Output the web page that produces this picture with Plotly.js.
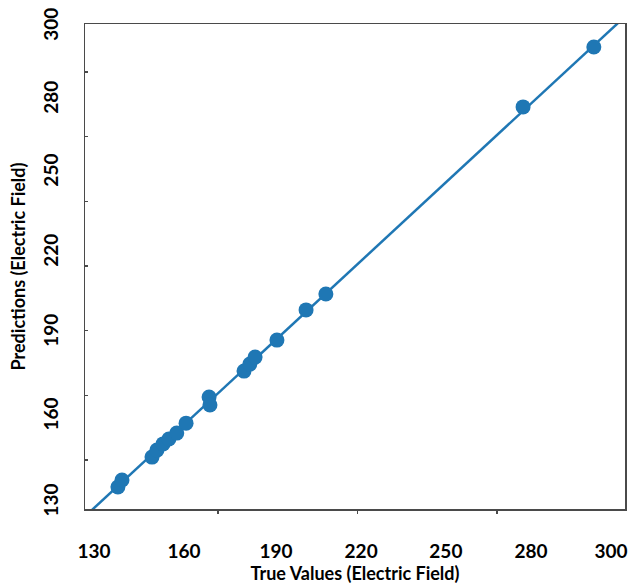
<!DOCTYPE html>
<html>
<head>
<meta charset="utf-8">
<script src="https://cdn.plot.ly/plotly-3.0.1.min.js"></script>
<style>html,body{margin:0;padding:0;background:#fff;}#chart{width:628px;height:587px;}</style>
</head>
<body>
<div id="chart"></div>
<script>
// True values vs predictions
const trueValues = [138.2, 139.6, 149.9, 151.6, 153.7, 155.7, 158.4, 161.6, 169.5, 169.8, 181.5, 183.5, 185.3, 192.8, 202.8, 209.6, 277.3, 301.6];
const predictions = [137.8, 140.4, 148.9, 151.5, 153.8, 155.6, 157.8, 161.5, 171.2, 168.2, 180.8, 183.4, 186.0, 192.3, 203.5, 209.4, 278.8, 301.0];

// identity line end points
const idealLine = [120, 320];

// tick labels (as printed) and their positions on the axes
const tickLabels = ["130", "160", "190", "220", "250", "280", "300"];
const xTickPos = [130.0, 160.9, 192.5, 221.7, 250.8, 280.0, 307.5];
const yTickPos = [131.9, 163.8, 194.9, 224.6, 254.3, 281.3, 308.4];

const blue = '#1f77b4';
const fontFam = 'Lato, "Open Sans", sans-serif';

const traces = [
  {
    x: idealLine, y: idealLine, mode: 'lines', type: 'scatter',
    line: {color: blue, width: 2.5}, hoverinfo: 'skip', showlegend: false
  },
  {
    x: trueValues, y: predictions, mode: 'markers', type: 'scatter',
    marker: {color: blue, size: 15, line: {width: 0}}, showlegend: false
  }
];

const axisCommon = {
  showgrid: false, zeroline: false,
  showline: true, linecolor: '#4a4a4a', linewidth: 1.5, mirror: true,
  tickmode: 'array', ticktext: tickLabels,
  ticks: 'outside', tickcolor: 'rgba(0,0,0,0)',
  tickfont: {family: fontFam, size: 19, color: '#000', weight: 'bold'}
};

const layout = {
  width: 628, height: 587,
  margin: {l: 85, r: 3, t: 24, b: 78},
  paper_bgcolor: '#fff', plot_bgcolor: '#fff',
  xaxis: Object.assign({}, axisCommon, {
    range: [126.9, 312.3], tickvals: xTickPos, ticklen: 25,
    minor: {tickmode: 'linear', tick0: 172.6, dtick: 47.85, ticks: 'outside', ticklen: 3, tickcolor: '#4a4a4a', tickwidth: 1.5},
    title: {text: 'True Values (Electric Field)', standoff: 4,
      font: {family: fontFam, size: 18, color: '#000', weight: 'bold'}}
  }),
  yaxis: Object.assign({}, axisCommon, {
    range: [129.65, 309.55], tickvals: yTickPos, ticklen: 18, tickangle: -90,
    minor: {tickmode: 'linear', tick0: 147.8, dtick: 24.0, ticks: 'inside', ticklen: 3, tickcolor: '#4a4a4a', tickwidth: 1.5},
    title: {text: 'Predictions (Electric Field)', standoff: 8,
      font: {family: fontFam, size: 18, color: '#000', weight: 'bold'}}
  })
};

Plotly.newPlot('chart', traces, layout, {displayModeBar: false, staticPlot: true});
</script>
</body>
</html>
